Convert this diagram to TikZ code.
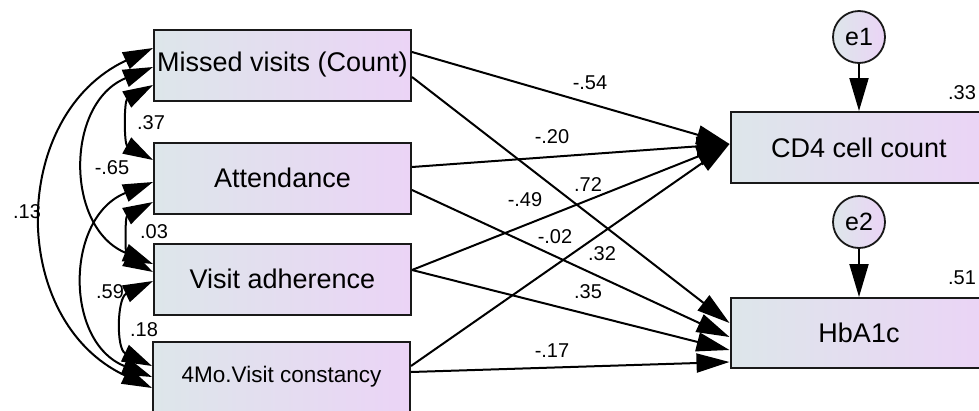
\documentclass[tikz,border=0pt]{standalone}
\usepackage{fontspec}
\setmainfont{Liberation Sans}
\usetikzlibrary{arrows.meta, positioning}
\definecolor{varleft}{RGB}{221,230,234}
\definecolor{varright}{RGB}{235,212,246}
\tikzstyle{var} = [rectangle, text centered, draw=black!90, line width=2pt,
	minimum width=257pt, minimum height=71pt, inner sep=0pt,
	left color=varleft, right color=varright, font=\fontsize{27}{30}\selectfont]
\tikzstyle{err} = [circle, draw=black!90, line width=1.8pt, minimum size=52pt,
	inner sep=0pt, left color=varleft, right color=varright, font=\fontsize{25}{28}\selectfont]
\tikzstyle{coef} = [inner sep=0pt, font=\fontsize{20}{22}\selectfont]
\tikzstyle{arrow} = [-{Triangle[length=33pt, width=19pt]}, line width=2pt]
\tikzstyle{cov} = [{Triangle[length=30pt, width=18pt]}-{Triangle[length=30pt, width=18pt]}, line width=2pt]

\begin{document}
\begin{tikzpicture}[x=1pt, y=-1pt]
	\useasboundingbox (0,0) rectangle (979,410);
	\clip (0,0) rectangle (979,410);

	% set up nodes
	\node (miss) [var] at (282.5,65) {Missed visits (Count)};
	\node (att) [var] at (282.5,178) {Attendance};
	\node (adh) [var] at (282.5,279) {Visit adherence};
	\node (cons) [var, font=\fontsize{22.5}{25}\selectfont] at (281.5,377) {4Mo.Visit constancy};
	\node (cd4) [var] at (859,147.5) {CD4 cell count};
	\node (hba) [var, minimum height=70pt] at (859,333) {HbA1c};
	\node (e1) [err] at (859,37) {e1};
	\node (e2) [err] at (859,222) {e2};

	% set up covariances between predictors
	\draw [cov] ([yshift=-20pt]miss.west) .. controls +(-29,16) and +(-29,-16) .. ([yshift=18pt]att.west);
	\draw [cov] ([yshift=-2pt]miss.west) .. controls +(-88,36) and +(-88,-36) .. ([yshift=15pt]adh.west);
	\draw [cov] ([yshift=17pt]miss.west) .. controls +(-144,67) and +(-144,-67) .. ([yshift=-11pt]cons.west);
	\draw [cov] ([yshift=-24pt]att.west) .. controls +(-28,15) and +(-28,-15) .. ([yshift=7pt]adh.west);
	\draw [cov] ([yshift=-4pt]att.west) .. controls +(-88,35) and +(-88,-35) .. (cons.west);
	\draw [cov] ([yshift=-2pt]adh.west) .. controls +(-36,17) and +(-36,-17) .. ([yshift=11pt]cons.west);

	% set up paths to outcomes
	\draw [arrow] (e1) -- (cd4);
	\draw [arrow] (e2) -- (hba);
	\draw [arrow] ([yshift=13pt]miss.east) -- ([yshift=3.5pt]cd4.west);
	\draw [arrow] ([yshift=-12pt]miss.east) -- ([yshift=10pt]hba.west);
	\draw [arrow] ([yshift=11pt]att.east) -- ([yshift=3.5pt]cd4.west);
	\draw [arrow] ([yshift=-12pt]att.east) -- ([yshift=-4pt]hba.west);
	\draw [arrow] ([yshift=9pt]adh.east) -- ([yshift=3.5pt]cd4.west);
	\draw [arrow] ([yshift=9pt]adh.east) -- ([yshift=-17pt]hba.west);
	\draw [arrow] ([yshift=11pt]cons.east) -- ([yshift=3.5pt]cd4.west);
	\draw [arrow] ([yshift=5pt]cons.east) -- ([yshift=-29pt]hba.west);

	% set up estimates
	\node (c37) [coef] at (151,123) {.37};
	\node (c65) [coef] at (112,168) {-.65};
	\node (c13) [coef] at (27,212) {.13};
	\node (c03) [coef] at (154,232) {.03};
	\node (c59) [coef] at (110,292) {.59};
	\node (c18) [coef] at (144,330) {.18};
	\node (c54) [coef] at (590,83) {-.54};
	\node (c20) [coef] at (552,137) {-.20};
	\node (c72) [coef] at (588,185) {.72};
	\node (c49) [coef] at (525,200) {-.49};
	\node (c02) [coef] at (555,237) {-.02};
	\node (c32) [coef] at (602,254) {.32};
	\node (c35) [coef] at (588,292) {.35};
	\node (c17) [coef] at (552,351) {-.17};
	\node (r33) [coef] at (962,93) {.33};
	\node (r51) [coef] at (962,278) {.51};

\end{tikzpicture}
\end{document}
